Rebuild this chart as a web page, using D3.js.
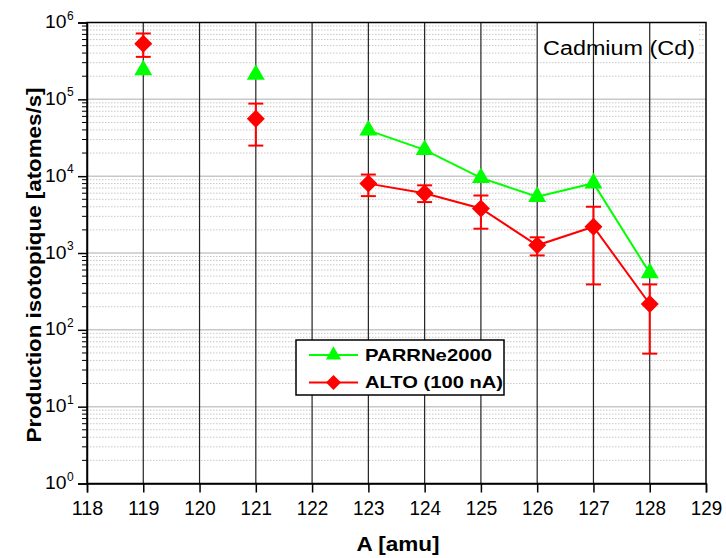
<!DOCTYPE html>
<html><head><meta charset="utf-8">
<script src="https://cdn.jsdelivr.net/npm/d3@7"></script>
<style>body{margin:0;background:#fff}text{font-family:Arial,"Liberation Sans",sans-serif}</style>
</head><body><svg id="c" width="726" height="558"></svg>
<script>
const xTicks = [118,119,120,121,122,123,124,125,126,127,128,129];
const yExps = [0,1,2,3,4,5,6];
const parrneA = [119,121,123,124,125,126,127,128];
const parrneY = [2.4e5,2.1e5,3.95e4,2.2e4,9.5e3,5.4e3,8.1e3,550];
const altoA = [119,121,123,124,125,126,127,128];
const altoY = [5.3e5,5.6e4,8.0e3,6.0e3,3.8e3,1.26e3,2.2e3,217];
const altoHi = [7.2e5,8.8e4,1.05e4,7.6e3,5.6e3,1.6e3,4.0e3,390];
const altoLo = [3.57e5,2.5e4,5.5e3,4.6e3,2.07e3,930,390,49];
const seriesNames = ["PARRNe2000","ALTO (100 nA)"];

const svg = d3.select("#c");
const L=87,R=706,T=22.5,B=483.5;
const x = d3.scaleLinear().domain([118,129]).range([L,R]);
const y = d3.scaleLog().domain([1,1e6]).range([B,T]);
const FF = "Arial, 'Liberation Sans', sans-serif";

// minor grid
const minors=[];
for(let e=0;e<6;e++) for(let m=2;m<=9;m++) minors.push(m*Math.pow(10,e));
svg.append("g").selectAll("line").data(minors).join("line")
  .attr("x1",L).attr("x2",R).attr("y1",d=>y(d)).attr("y2",d=>y(d))
  .attr("stroke","#c8c8c8").attr("stroke-width",1).attr("stroke-dasharray","1.5,1.5");
// major grid
svg.append("g").selectAll("line").data(yExps.slice(1,6)).join("line")
  .attr("x1",L).attr("x2",R).attr("y1",d=>y(Math.pow(10,d))).attr("y2",d=>y(Math.pow(10,d)))
  .attr("stroke","#c8c8c8").attr("stroke-width",1.5);

// Cadmium label background
svg.append("rect").attr("x",537).attr("y",23).attr("width",161).attr("height",37).attr("fill","#fff");

// vertical grid
svg.append("g").selectAll("line").data(xTicks.slice(1,11)).join("line")
  .attr("x1",d=>x(d)).attr("x2",d=>x(d)).attr("y1",T).attr("y2",B)
  .attr("stroke","#222").attr("stroke-width",1.2);

// frame
svg.append("rect").attr("x",L).attr("y",T).attr("width",R-L).attr("height",B-T)
  .attr("fill","none").attr("stroke","#000").attr("stroke-width",1.5);

// x axis
const xa = svg.append("g").attr("transform",`translate(0,${B})`)
  .call(d3.axisBottom(x).tickValues(xTicks).tickFormat(d3.format("d")).tickSize(9).tickPadding(0));
xa.select(".domain").attr("stroke","#000").attr("stroke-width",1.5);
xa.selectAll(".tick line").attr("stroke","#000").attr("stroke-width",1.5);
xa.selectAll("text").attr("font-size",19.5).attr("fill","#000").attr("font-family",FF)
  .attr("dy",null).attr("y",31)
  .attr("textLength",31.5).attr("lengthAdjust","spacingAndGlyphs");

// y axis
const ya = svg.append("g").attr("transform",`translate(${L},0)`)
  .call(d3.axisLeft(y).tickValues(yExps.map(e=>Math.pow(10,e))).tickFormat("").tickSize(9));
ya.select(".domain").attr("stroke","#000").attr("stroke-width",1.5);
ya.selectAll(".tick line").attr("stroke","#000").attr("stroke-width",1.5);
svg.append("g").selectAll("line").data(minors).join("line")
  .attr("x1",L-5).attr("x2",L).attr("y1",d=>y(d)).attr("y2",d=>y(d))
  .attr("stroke","#000").attr("stroke-width",1);
const yl = svg.append("g").selectAll("g").data(yExps).join("g")
  .attr("transform",d=>`translate(0,${y(Math.pow(10,d))})`);
yl.append("text").attr("x",45).attr("y",5.5)
  .attr("font-size",19).attr("fill","#000")
  .attr("textLength",21.5).attr("lengthAdjust","spacingAndGlyphs").text("10");
yl.append("text").attr("x",67).attr("y",-3).attr("font-size",12).attr("fill","#000").text(d=>d);

// titles
svg.append("text").attr("x",398).attr("y",551).attr("text-anchor","middle")
  .attr("font-size",20).attr("font-weight","bold")
  .attr("textLength",83).attr("lengthAdjust","spacingAndGlyphs").text("A [amu]");
svg.append("text").attr("transform",`translate(41,265) rotate(-90)`).attr("text-anchor","middle")
  .attr("font-size",20.5).attr("font-weight","bold")
  .attr("textLength",355).attr("lengthAdjust","spacingAndGlyphs").text("Production isotopique [atomes/s]");

// Cadmium label
svg.append("text").attr("x",543).attr("y",55).attr("font-size",20)
  .attr("textLength",152).attr("lengthAdjust","spacingAndGlyphs").text("Cadmium (Cd)");

// series
const green="#00ff00", red="#ff0000";
const line = d3.line().x(d=>x(d[0])).y(d=>y(d[1]));
const pSeg = parrneA.map((a,i)=>[a,parrneY[i]]).filter(d=>d[0]>=123);
const aSeg = altoA.map((a,i)=>[a,altoY[i]]).filter(d=>d[0]>=123);
svg.append("path").attr("d",line(pSeg)).attr("fill","none").attr("stroke",green).attr("stroke-width",2);
svg.append("path").attr("d",line(aSeg)).attr("fill","none").attr("stroke",red).attr("stroke-width",2);

// error bars
const eb = svg.append("g").selectAll("g").data(altoA.map((a,i)=>({a,hi:altoHi[i],lo:altoLo[i]}))).join("g");
eb.append("line").attr("x1",d=>x(d.a)).attr("x2",d=>x(d.a)).attr("y1",d=>y(d.hi)).attr("y2",d=>y(d.lo))
  .attr("stroke",red).attr("stroke-width",2);
eb.append("line").attr("x1",d=>x(d.a)-7.5).attr("x2",d=>x(d.a)+7.5).attr("y1",d=>y(d.hi)).attr("y2",d=>y(d.hi))
  .attr("stroke",red).attr("stroke-width",2);
eb.append("line").attr("x1",d=>x(d.a)-7.5).attr("x2",d=>x(d.a)+7.5).attr("y1",d=>y(d.lo)).attr("y2",d=>y(d.lo))
  .attr("stroke",red).attr("stroke-width",2);

const tri = d3.symbol().type(d3.symbolTriangle).size(140);
const dia = "M0,-9L9,0L0,9L-9,0Z";
svg.append("g").selectAll("path").data(parrneA.map((a,i)=>[a,parrneY[i]])).join("path")
  .attr("transform",d=>`translate(${x(d[0])},${y(d[1])})`).attr("d",tri).attr("fill",green);
svg.append("g").selectAll("path").data(altoA.map((a,i)=>[a,altoY[i]])).join("path")
  .attr("transform",d=>`translate(${x(d[0])},${y(d[1])})`).attr("d",dia).attr("fill",red);

// legend
const lg = svg.append("g");
lg.append("rect").attr("x",296).attr("y",340).attr("width",208).attr("height",55)
  .attr("fill","#fff").attr("stroke","#000").attr("stroke-width",1.5);
const legLen = [127,138];
[[green,"tri"],[red,"dia"]].forEach((s,i)=>{
  const yy = 355+i*27.5;
  lg.append("line").attr("x1",309).attr("x2",358).attr("y1",yy).attr("y2",yy).attr("stroke",s[0]).attr("stroke-width",2);
  lg.append("path").attr("transform",`translate(333.5,${yy})`).attr("d",s[1]==="tri"?d3.symbol().type(d3.symbolTriangle).size(100):"M0,-7.5L7.5,0L0,7.5L-7.5,0Z").attr("fill",s[0]);
  lg.append("text").attr("x",365).attr("y",yy+5.5).attr("font-size",17).attr("font-weight","bold")
    .attr("textLength",legLen[i]).attr("lengthAdjust","spacingAndGlyphs").text(seriesNames[i]);
});
</script></body></html>
